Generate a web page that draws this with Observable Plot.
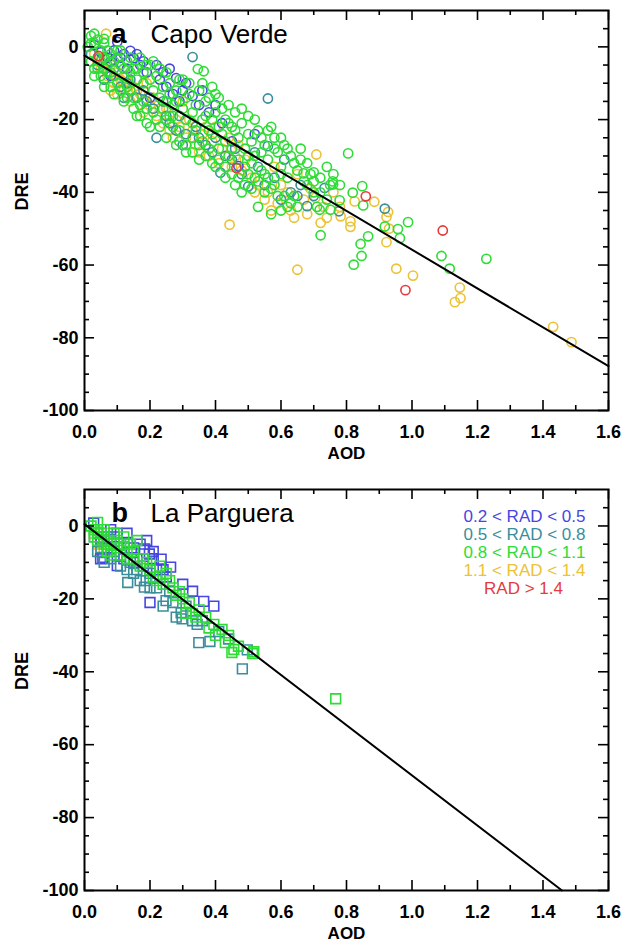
<!DOCTYPE html>
<html><head><meta charset="utf-8">
<script src="https://cdn.jsdelivr.net/npm/d3@7"></script>
<script src="https://cdn.jsdelivr.net/npm/@observablehq/plot@0.6"></script>
<style>
body{margin:0;background:#fff;width:621px;}
#chart svg{display:block;overflow:visible;}
</style></head><body><div id="chart"></div>
<script>
// RAD classes and their colours
const radClasses = ["0.2 < RAD < 0.5","0.5 < RAD < 0.8","0.8 < RAD < 1.1","1.1 < RAD < 1.4","RAD > 1.4"];
const radColors = ["#4646e2","#3a8e9c","#2edc36","#ecc236","#e6393c"];

// tick values
const xMajor = [0,0.2,0.4,0.6,0.8,1.0,1.2,1.4,1.6];
const xMinor = [0.1,0.3,0.5,0.7,0.9,1.1,1.3,1.5];
const yMajor = [-100,-80,-60,-40,-20,0];
const yMinor = [-95,-90,-85,-75,-70,-65,-55,-50,-45,-35,-30,-25,-15,-10,-5,5];

// panel a: Capo Verde  [AOD, DRE]
const capoBlue = [[0.03,0.5],[0.05,-1.5],[0.07,-3],[0.10,1.4],[0.12,-2],[0.14,-1.1],[0.15,-3.1],[0.13,-6],[0.17,-5],[0.19,-7],[0.22,-5],[0.23,-9],[0.25,-11],[0.28,-8.6],[0.27,-13],[0.30,-12],[0.33,-13.5],[0.35,-16],[0.38,-18],[0.42,-21],[0.47,-32.8],[0.52,-24],[0.08,-8],[0.20,-14],[0.45,-26],[0.09,-1],[0.11,-3],[0.16,-2],[0.18,-4],[0.24,-7],[0.26,-6],[0.31,-10],[0.29,-15],[0.36,-12],[0.40,-16]];
const capoTeal = [[0.02,-2],[0.04,-5],[0.06,-9],[0.09,-6],[0.11,-11],[0.14,-9],[0.16,-14],[0.18,-12],[0.21,-17],[0.24,-15],[0.26,-21],[0.29,-19],[0.31,-24],[0.33,-2.8],[0.34,-22],[0.37,-27],[0.40,-25],[0.415,-34.6],[0.43,-30],[0.46,-28],[0.48,-35],[0.50,-38.4],[0.53,-33],[0.56,-14.2],[0.56,-27.3],[0.58,-36],[0.61,-31],[0.63,-40],[0.66,-38],[0.68,-43.8],[0.70,-41],[0.733,-38.8],[0.777,-45.2],[0.917,-44.5],[0.30,-27],[0.12,-14],[0.22,-25],[0.08,-4],[0.13,-10],[0.19,-15],[0.25,-19],[0.28,-23],[0.35,-25],[0.39,-29],[0.45,-31],[0.52,-29],[0.55,-38],[0.60,-42],[0.65,-41]];
const capoYellow = [[0.066,3.6],[0.03,-2],[0.05,-6],[0.06,-4],[0.07,-8],[0.08,-5],[0.09,-10],[0.10,-7],[0.11,-9],[0.12,-12],[0.13,-8],[0.14,-15],[0.15,-11],[0.17,-13],[0.19,-10],[0.20,-16],[0.22,-19],[0.24,-21],[0.25,-17],[0.27,-25],[0.29,-22],[0.30,-15],[0.32,-20],[0.34,-27],[0.36,-24],[0.38,-30],[0.40,-22],[0.42,-28],[0.443,-48.9],[0.45,-33],[0.47,-27],[0.49,-31],[0.51,-36],[0.52,-40],[0.55,-42],[0.57,-45],[0.58,-33],[0.60,-38],[0.62,-40],[0.64,-47],[0.65,-61.3],[0.67,-42],[0.69,-39],[0.705,-41.5],[0.708,-29.6],[0.721,-48.4],[0.73,-44],[0.76,-40],[0.782,-46.6],[0.812,-48],[0.812,-49.5],[0.825,-42.5],[0.885,-42.6],[0.922,-46.8],[0.927,-45.4],[0.922,-53.7],[0.952,-61],[1.003,-62.9],[1.146,-66.2],[1.148,-69.1],[1.131,-70.2],[1.431,-77],[1.487,-81.2],[0.93,-50],[0.65,-35],[0.04,-4],[0.06,-9],[0.08,-12],[0.10,-13],[0.12,-10],[0.14,-10],[0.16,-12],[0.18,-18],[0.21,-14],[0.23,-17],[0.26,-23],[0.28,-20],[0.31,-25],[0.33,-23],[0.35,-29],[0.37,-22],[0.39,-26],[0.41,-32],[0.44,-25],[0.46,-30],[0.48,-34],[0.53,-38],[0.56,-40],[0.59,-43],[0.63,-45],[0.68,-46],[0.74,-47],[0.78,-44]];
const capoGreen = [[0.03,3.6],[0.06,2.2],[0.01,0],[0.02,3],[0.03,1],[0.02,-4],[0.04,2],[0.05,-1],[0.06,1],[0.07,-1],[0.08,-2],[0.04,-6],[0.05,-8],[0.06,-6],[0.07,-5],[0.09,-4],[0.10,-3],[0.11,-5],[0.12,-8],[0.10,-10],[0.08,-11],[0.09,-13],[0.13,-4],[0.14,-7],[0.15,-6],[0.16,-9],[0.17,-3],[0.18,-10],[0.19,-5],[0.20,-9],[0.13,-11],[0.15,-14],[0.17,-16],[0.21,-12],[0.22,-8],[0.23,-14],[0.24,-11],[0.25,-7],[0.26,-13],[0.27,-16],[0.28,-12],[0.29,-9],[0.30,-17],[0.31,-14],[0.32,-10],[0.33,-18],[0.346,-6.1],[0.364,-6.7],[0.35,-12],[0.36,-20],[0.37,-15],[0.38,-23],[0.39,-11],[0.40,-18],[0.41,-14],[0.42,-24],[0.43,-20],[0.44,-16],[0.45,-22],[0.46,-18],[0.47,-25],[0.48,-21],[0.49,-28],[0.50,-19],[0.51,-26],[0.52,-30],[0.53,-23],[0.54,-34],[0.55,-27],[0.56,-31],[0.57,-22],[0.58,-38],[0.59,-29],[0.60,-33],[0.61,-27],[0.62,-36],[0.63,-30],[0.64,-41],[0.65,-34],[0.66,-28],[0.67,-37],[0.68,-32],[0.69,-35],[0.71,-44],[0.70,-40],[0.72,-36],[0.74,-33],[0.75,-38],[0.758,-37],[0.759,-37.8],[0.779,-42.2],[0.718,-44.8],[0.751,-44.8],[0.721,-51.8],[0.805,-29.3],[0.669,-34.8],[0.70,-34.5],[0.819,-40.1],[0.848,-38.3],[0.851,-43.6],[0.866,-52.1],[0.843,-54.2],[0.846,-57.5],[0.822,-59.9],[0.917,-49.4],[0.957,-50.1],[0.963,-52.6],[0.988,-48.2],[1.09,-57.5],[1.115,-61],[1.227,-58.3],[0.20,-22],[0.25,-25],[0.28,-27],[0.31,-29],[0.33,-25],[0.35,-31],[0.38,-28],[0.40,-33],[0.43,-36],[0.46,-38],[0.48,-40],[0.50,-35],[0.53,-44],[0.55,-40],[0.57,-46],[0.60,-45],[0.63,-43],[0.12,-15],[0.16,-19],[0.18,-15],[0.22,-20],[0.24,-17],[0.26,-19],[0.29,-23],[0.31,-20],[0.34,-23],[0.36,-26],[0.39,-20],[0.41,-28],[0.44,-30],[0.47,-31],[0.50,-30],[0.52,-36],[0.56,-36],[0.58,-25],[0.61,-41],[0.04,-3],[0.03,-6],[0.06,-11],[0.11,-1],[0.14,-12],[0.19,-17],[0.21,-4],[0.05,-4],[0.07,-7],[0.09,-8],[0.11,-12],[0.13,-14],[0.15,-17],[0.17,-19],[0.19,-21],[0.21,-18],[0.23,-22],[0.25,-20],[0.27,-22],[0.29,-26],[0.31,-27],[0.33,-29],[0.35,-27],[0.37,-30],[0.39,-32],[0.41,-31],[0.43,-33],[0.45,-35],[0.47,-36],[0.49,-38],[0.51,-39],[0.53,-37],[0.55,-35],[0.57,-39],[0.59,-41],[0.62,-44],[0.65,-44],[0.18,-7],[0.20,-5],[0.23,-6],[0.26,-10],[0.28,-15],[0.30,-9],[0.32,-13],[0.34,-16],[0.36,-10],[0.38,-14],[0.40,-13],[0.42,-17],[0.44,-21],[0.46,-23],[0.48,-17],[0.50,-24],[0.52,-20],[0.54,-25],[0.56,-23],[0.58,-28],[0.60,-25],[0.62,-28],[0.64,-32],[0.66,-31],[0.68,-38],[0.70,-37],[0.72,-40],[0.74,-42],[0.76,-35],[0.78,-38],[0.10,-1],[0.12,-6],[0.14,-3],[0.16,-6],[0.08,-7],[0.06,-3],[0.03,-8],[0.02,1],[0.25,-15],[0.27,-19],[0.33,-21],[0.37,-19],[0.39,-24],[0.41,-22],[0.43,-26],[0.45,-28],[0.49,-33],[0.51,-32],[0.54,-29],[0.60,-35]];
const capoRed = [[0.043,-2.5],[0.464,-33.3],[0.859,-41.1],[1.094,-50.5],[0.98,-66.9]];
const capoFit = [[0,-2.4],[1.6,-87.8]];

// panel b: La Parguera  [AOD, DRE]
const parBlue = [[0.028,0.8],[0.04,-2],[0.05,-4],[0.056,-8.6],[0.07,-6],[0.08,-1],[0.10,-10.9],[0.09,-3],[0.11,-5],[0.132,-4.5],[0.143,-7.2],[0.12,-9],[0.15,-6],[0.16,-9],[0.17,-5],[0.183,-6.3],[0.198,-7.7],[0.21,-9],[0.234,-9.1],[0.22,-12],[0.263,-11.3],[0.25,-14],[0.20,-21],[0.33,-17.9],[0.364,-20.7],[0.395,-22],[0.30,-16],[0.18,-11],[0.049,-9],[0.06,-3],[0.08,-4],[0.10,-8],[0.13,-2],[0.15,-10],[0.19,-4],[0.21,-7],[0.24,-12]];
const parTeal = [[0.03,-3],[0.05,-6],[0.07,-3],[0.09,-7],[0.10,-2],[0.12,-6],[0.132,-15.5],[0.14,-10],[0.16,-12],[0.183,-16.8],[0.188,-15],[0.20,-13],[0.22,-17],[0.249,-20.5],[0.27,-21],[0.26,-18],[0.295,-23.8],[0.298,-25.5],[0.31,-22],[0.344,-27],[0.349,-32],[0.383,-31.7],[0.36,-26],[0.41,-29],[0.44,-31],[0.482,-39.2],[0.497,-34],[0.23,-14],[0.11,-11],[0.04,-7],[0.06,-10],[0.08,-9],[0.13,-12],[0.15,-13],[0.17,-15],[0.20,-17],[0.24,-22],[0.28,-25],[0.33,-26]];
const parGreen = [[0.02,0],[0.03,-1],[0.04,1],[0.05,-2],[0.06,-1],[0.07,-4],[0.08,-5],[0.09,-2],[0.10,-6],[0.11,-8],[0.12,-3],[0.13,-7],[0.14,-5],[0.15,-9],[0.16,-4],[0.17,-11],[0.19,-10],[0.20,-12],[0.21,-14],[0.23,-11],[0.24,-16],[0.26,-15],[0.28,-19],[0.30,-20],[0.32,-21],[0.33,-24],[0.35,-23],[0.37,-25],[0.395,-27],[0.42,-28.4],[0.40,-30],[0.43,-32],[0.456,-33.9],[0.45,-34.7],[0.47,-33],[0.517,-34.5],[0.513,-35],[0.767,-47.4],[0.06,-5],[0.08,-8],[0.04,-4],[0.03,-3],[0.04,-2],[0.06,-3],[0.07,-7],[0.09,-5],[0.10,-4],[0.12,-5],[0.13,-9],[0.15,-7],[0.18,-9],[0.22,-15],[0.25,-13],[0.27,-17],[0.29,-18],[0.31,-24],[0.34,-25],[0.38,-28],[0.44,-30]];
const parYellow = [[0.03,-2],[0.04,-5],[0.05,-3],[0.06,-6],[0.07,-2],[0.05,-7],[0.04,-1],[0.05,-5],[0.06,-4],[0.07,-5]];
const parFit = [[0,0.5],[1.458,-100]];

const rows = (list, k) => list.map(([aod, dre]) => ({aod, dre, rad: radClasses[k]}));
const capoData = [...rows(capoYellow,3), ...rows(capoBlue,0), ...rows(capoTeal,1), ...rows(capoGreen,2), ...rows(capoRed,4)];
const parData = [...rows(parYellow,3), ...rows(parBlue,0), ...rows(parTeal,1), ...rows(parGreen,2)];

const FONT = "'Liberation Sans', Arial, Helvetica, sans-serif";

function frameTicks() {
  const fx = d => d;
  return [
    Plot.ruleX(xMajor, {x: fx, y1: () => -100, y2: () => -100, insetBottom: 10, stroke: "black", strokeWidth: 1.6}),
    Plot.ruleX(xMinor, {x: fx, y1: () => -100, y2: () => -100, insetBottom: 5, stroke: "black", strokeWidth: 1.6}),
    Plot.ruleX(xMajor, {x: fx, y1: () => 10, y2: () => 10, insetTop: 10, stroke: "black", strokeWidth: 1.6}),
    Plot.ruleX(xMinor, {x: fx, y1: () => 10, y2: () => 10, insetTop: 5, stroke: "black", strokeWidth: 1.6}),
    Plot.ruleY(yMajor, {y: fx, x1: () => 0, x2: () => 0, insetLeft: 10, stroke: "black", strokeWidth: 1.6}),
    Plot.ruleY(yMinor, {y: fx, x1: () => 0, x2: () => 0, insetLeft: 5, stroke: "black", strokeWidth: 1.6}),
    Plot.ruleY(yMajor, {y: fx, x1: () => 1.6, x2: () => 1.6, insetRight: 10, stroke: "black", strokeWidth: 1.6}),
    Plot.ruleY(yMinor, {y: fx, x1: () => 1.6, x2: () => 1.6, insetRight: 5, stroke: "black", strokeWidth: 1.6}),
    Plot.axisX(xMajor, {tickSize: 0, tickPadding: 15, fontSize: 18, fontWeight: "bold", tickFormat: d3.format(".1f"), label: null}),
    Plot.axisY(yMajor, {tickSize: 0, tickPadding: 6, fontSize: 18, fontWeight: "bold", tickFormat: d => String(d), label: null}),
    Plot.text(["AOD"], {text: d => d, frameAnchor: "bottom", dy: 43, fontSize: 17, fontWeight: "bold", lineAnchor: "middle"}),
    Plot.text(["DRE"], {text: d => d, frameAnchor: "left", dx: -62, rotate: -90, fontSize: 18, fontWeight: "bold", lineAnchor: "middle"}),
    Plot.frame({stroke: "black", strokeWidth: 2})
  ];
}

function panel({data, fit, letter, site, symbol, r, height, marginTop, marginBottom, legend}) {
  const marks = [
    Plot.dot(data, {x: "aod", y: "dre", stroke: "rad", symbol, r, strokeWidth: 1.6, fill: "none"}),
    Plot.line(fit, {x: d => d[0], y: d => d[1], stroke: "black", strokeWidth: 2}),
    Plot.text([letter], {text: d => d, frameAnchor: "top-left", dx: 27, dy: 32, textAnchor: "start", lineAnchor: "bottom", fontSize: 27, fontWeight: "bold"}),
    Plot.text([site], {text: d => d, frameAnchor: "top-left", dx: 66, dy: 32, textAnchor: "start", lineAnchor: "bottom", fontSize: 26}),
    ...frameTicks()
  ];
  if (legend) {
    radClasses.forEach((c, i) => {
      const last = i === radClasses.length - 1;
      marks.push(Plot.text([c], {text: d => d, fill: d => d, frameAnchor: "top-right",
        dx: last ? -85 : -23, dy: 27 + i * 18, textAnchor: last ? "middle" : "end", lineAnchor: "middle", fontSize: 17}));
    });
  }
  return Plot.plot({
    width: 621, height, marginTop, marginBottom, marginLeft: 84, marginRight: 13,
    x: {domain: [0, 1.6]},
    y: {domain: [-100, 10]},
    color: {domain: radClasses, range: radColors},
    style: {fontFamily: FONT, background: "white", color: "black", overflow: "visible"},
    marks
  });
}

const chart = document.getElementById("chart");
chart.append(panel({data: capoData, fit: capoFit, letter: "a", site: "Capo Verde", symbol: "circle", r: 4.6, height: 470, marginTop: 10, marginBottom: 60}));
chart.append(panel({data: parData, fit: parFit, letter: "b", site: "La Parguera", symbol: "square", r: 5.5, height: 472, marginTop: 19, marginBottom: 52, legend: true}));
</script>
</body></html>
